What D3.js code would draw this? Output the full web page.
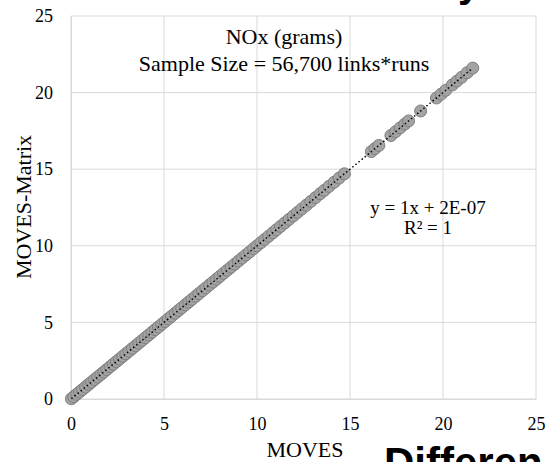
<!DOCTYPE html>
<html>
<head>
<meta charset="utf-8">
<script src="https://cdn.jsdelivr.net/npm/d3@7"></script>
<style>
  body { margin: 0; background: #fff; }
  svg { display: block; }
  text { font-family: 'Liberation Serif', 'Times New Roman', serif; }
  .tick text { font-family: 'Liberation Serif', 'Times New Roman', serif; font-size: 18px; fill: #000; }
</style>
</head>
<body>
<div class="chart"></div>
<script>
// Chart data (MOVES vs MOVES-Matrix, NOx grams)
var moves = [0.02, 0.15, 0.31, 0.46, 0.62, 0.78, 0.95, 1.1, 1.27, 1.43, 1.6, 1.76, 1.92, 2.1, 2.27,
  2.44, 2.6, 2.78, 2.95, 3.12, 3.3, 3.47, 3.65, 3.82, 4.0, 4.18, 4.35, 4.53, 4.7, 4.88, 5.05, 5.23,
  5.4, 5.6, 5.78, 5.95, 6.15, 6.33, 6.5, 6.7, 6.88, 7.07, 7.25, 7.45, 7.63, 7.82, 8.0, 8.2, 8.4,
  8.6, 8.8, 9.0, 9.2, 9.4, 9.6, 9.82, 10.0, 10.2, 10.42, 10.63, 10.85, 11.05, 11.27, 11.5, 11.72,
  11.95, 12.18, 12.4, 12.65, 12.9, 13.15, 13.4, 13.62, 13.88, 14.15, 14.42, 14.7,
  16.15, 16.35, 16.55, 17.2, 17.45, 17.7, 17.95, 18.15, 18.8, 19.65, 19.9, 20.15,
  20.5, 20.75, 21.0, 21.3, 21.6];
var movesMatrix = [0.02, 0.15, 0.31, 0.46, 0.62, 0.78, 0.95, 1.1, 1.27, 1.43, 1.6, 1.76, 1.92, 2.1, 2.27,
  2.44, 2.6, 2.78, 2.95, 3.12, 3.3, 3.47, 3.65, 3.82, 4.0, 4.18, 4.35, 4.53, 4.7, 4.88, 5.05, 5.23,
  5.4, 5.6, 5.78, 5.95, 6.15, 6.33, 6.5, 6.7, 6.88, 7.07, 7.25, 7.45, 7.63, 7.82, 8.0, 8.2, 8.4,
  8.6, 8.8, 9.0, 9.2, 9.4, 9.6, 9.82, 10.0, 10.2, 10.42, 10.63, 10.85, 11.05, 11.27, 11.5, 11.72,
  11.95, 12.18, 12.4, 12.65, 12.9, 13.15, 13.4, 13.62, 13.88, 14.15, 14.42, 14.7,
  16.15, 16.35, 16.55, 17.2, 17.45, 17.7, 17.95, 18.15, 18.8, 19.65, 19.9, 20.15,
  20.5, 20.75, 21.0, 21.3, 21.6];
var tickValues = [0, 5, 10, 15, 20, 25];
var trendSlope = 1;
var trendIntercept = 2e-7;
var titleLines = ["NOx (grams)", "Sample Size = 56,700 links*runs"];
var equationLines = ["y = 1x + 2E-07", "R\u00b2 = 1"];

// Chart Params
var svgWidth = 547;
var svgHeight = 462;
var margin = { top: 16, right: 11, bottom: 63, left: 71 };
var width = svgWidth - margin.left - margin.right;
var height = svgHeight - margin.top - margin.bottom;
var serif = "'Liberation Serif', 'Times New Roman', serif";

var svg = d3.select(".chart")
  .append("svg")
  .attr("width", svgWidth)
  .attr("height", svgHeight);

var chartGroup = svg.append("g")
  .attr("transform", `translate(${margin.left}, ${margin.top})`);

var xScale = d3.scaleLinear().domain([0, 25]).range([0, width]);
var yScale = d3.scaleLinear().domain([0, 25]).range([height, 0]);

// gridlines
chartGroup.append("g")
  .selectAll("line")
  .data(tickValues)
  .enter()
  .append("line")
  .attr("x1", d => xScale(d))
  .attr("x2", d => xScale(d))
  .attr("y1", 0)
  .attr("y2", height)
  .attr("stroke", "#d9d9d9")
  .attr("stroke-width", 1);

chartGroup.append("g")
  .selectAll("line")
  .data(tickValues)
  .enter()
  .append("line")
  .attr("x1", 0)
  .attr("x2", width)
  .attr("y1", d => yScale(d))
  .attr("y2", d => yScale(d))
  .attr("stroke", "#d9d9d9")
  .attr("stroke-width", 1);

// axes (labels only, Excel-style)
var bottomAxis = d3.axisBottom(xScale).tickValues(tickValues).tickSize(0).tickPadding(18);
var leftAxis = d3.axisLeft(yScale).tickValues(tickValues).tickSize(0).tickPadding(18);

chartGroup.append("g")
  .attr("transform", `translate(0, ${height})`)
  .call(bottomAxis)
  .attr("font-family", serif)
  .attr("font-size", 18)
  .call(g => g.select(".domain").attr("stroke", "#d9d9d9"));

chartGroup.append("g")
  .call(leftAxis)
  .attr("font-family", serif)
  .attr("font-size", 18)
  .call(g => g.select(".domain").attr("stroke", "#d9d9d9"));

// points
var points = moves.map((m, i) => ({ x: m, y: movesMatrix[i] }));

chartGroup.selectAll(".pt")
  .data(points)
  .enter()
  .append("circle")
  .attr("class", "pt")
  .attr("cx", d => xScale(d.x))
  .attr("cy", d => yScale(d.y))
  .attr("r", 6)
  .attr("fill", "#a3a3a3")
  .attr("stroke", "#7f7f7f")
  .attr("stroke-width", 1);

// linear trendline (dotted)
var xExtent = d3.extent(moves);
chartGroup.append("line")
  .attr("x1", xScale(xExtent[0]))
  .attr("y1", yScale(trendSlope * xExtent[0] + trendIntercept))
  .attr("x2", xScale(xExtent[1]))
  .attr("y2", yScale(trendSlope * xExtent[1] + trendIntercept))
  .attr("stroke", "#000")
  .attr("stroke-width", 1.5)
  .attr("stroke-dasharray", "1.5,2.5");

// title inside plot
svg.selectAll(".title")
  .data(titleLines)
  .enter()
  .append("text")
  .attr("class", "title")
  .attr("x", 284)
  .attr("y", (d, i) => 44 + i * 27)
  .attr("text-anchor", "middle")
  .style("font-family", serif)
  .style("font-size", "22px")
  .text(d => d);

// equation label
svg.selectAll(".eq")
  .data(equationLines)
  .enter()
  .append("text")
  .attr("class", "eq")
  .attr("x", 428)
  .attr("y", (d, i) => 214 + i * 20)
  .attr("text-anchor", "middle")
  .style("font-family", serif)
  .style("font-size", "19px")
  .text(d => d);

// axis titles
svg.append("text")
  .attr("x", 305)
  .attr("y", 457)
  .attr("text-anchor", "middle")
  .style("font-family", serif)
  .style("font-size", "22px")
  .text("MOVES");

svg.append("text")
  .attr("transform", "translate(31, 207) rotate(-90)")
  .attr("text-anchor", "middle")
  .style("font-family", serif)
  .style("font-size", "22px")
  .text("MOVES-Matrix");

// slide text cut off at the edges
svg.append("text")
  .attr("x", 458)
  .attr("y", -3)
  .style("font-family", "'Liberation Sans', Arial, sans-serif")
  .style("font-weight", "bold")
  .style("font-size", "40px")
  .text("y");

svg.append("text")
  .attr("x", 384)
  .attr("y", 477)
  .style("font-family", "'Liberation Sans', Arial, sans-serif")
  .style("font-weight", "bold")
  .style("font-size", "42px")
  .text("Differen");
</script>
</body>
</html>
